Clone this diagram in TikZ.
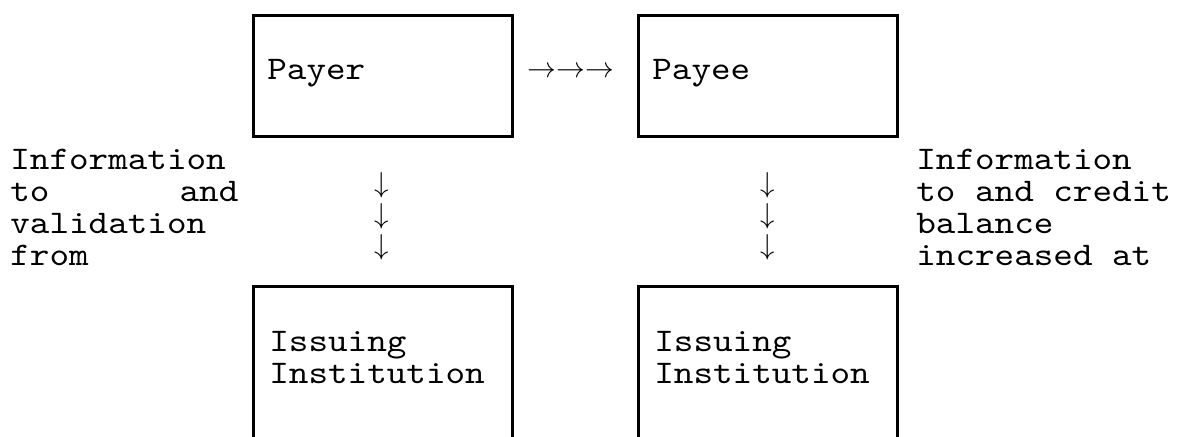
\documentclass[tikz,border=0pt]{standalone}
\usepackage{fontspec}
\setmonofont[FakeStretch=1.13]{lmmono10-regular.otf}
\begin{document}
\begin{tikzpicture}[x=0.5pt,y=-0.5pt,
  box/.style={draw, line width=1.5pt, rectangle, inner sep=0pt, anchor=north west,
              minimum width=129.5pt},
  txt/.style={inner sep=0pt, font=\fontsize{16.5pt}{16pt}\selectfont\ttfamily, align=left},
  arr/.style={inner sep=0pt, font=\fontsize{14pt}{15.5pt}\selectfont, align=center}]
\useasboundingbox (0,0) rectangle (1189,437);
\clip (0,0) rectangle (1189,437);

% parties
\node[box, minimum height=60.5pt] (payer) at (252,14) {};
\node[box, minimum height=60.5pt] (payee) at (637,14) {};
% institutions (open at the bottom edge)
\node[box, minimum height=100pt] (iss1) at (252,285) {};
\node[box, minimum height=100pt] (iss2) at (637,285) {};

% box labels (base anchor = last line)
\node[txt, anchor=base west] (payerT) at (267,80) {Payer};
\node[txt, anchor=base west] (payeeT) at (652,80) {Payee};
\node[txt, anchor=base west] (iss1T) at (269,384) {Issuing\\Institution};
\node[txt, anchor=base west] (iss2T) at (654,384) {Issuing\\Institution};

% side notes
\node[txt, anchor=base west] (noteL) at (10,266)
  {Information\\\makebox[114pt][l]{to\hfill and}\\validation\\from};
\node[txt, anchor=base west] (noteR) at (916,266)
  {Information\\to and credit\\balance\\increased at};

% glyph arrows
\node[arr, anchor=base west, font=\fontsize{13.5pt}{15.5pt}\selectfont] (flow) at (527,77.5)
  {$\rightarrow\rightarrow\rightarrow$};
\node[arr, anchor=base] (down1) at (382,255) {$\downarrow$\\$\downarrow$\\$\downarrow$};
\node[arr, anchor=base] (down2) at (768,255) {$\downarrow$\\$\downarrow$\\$\downarrow$};
\end{tikzpicture}
\end{document}
